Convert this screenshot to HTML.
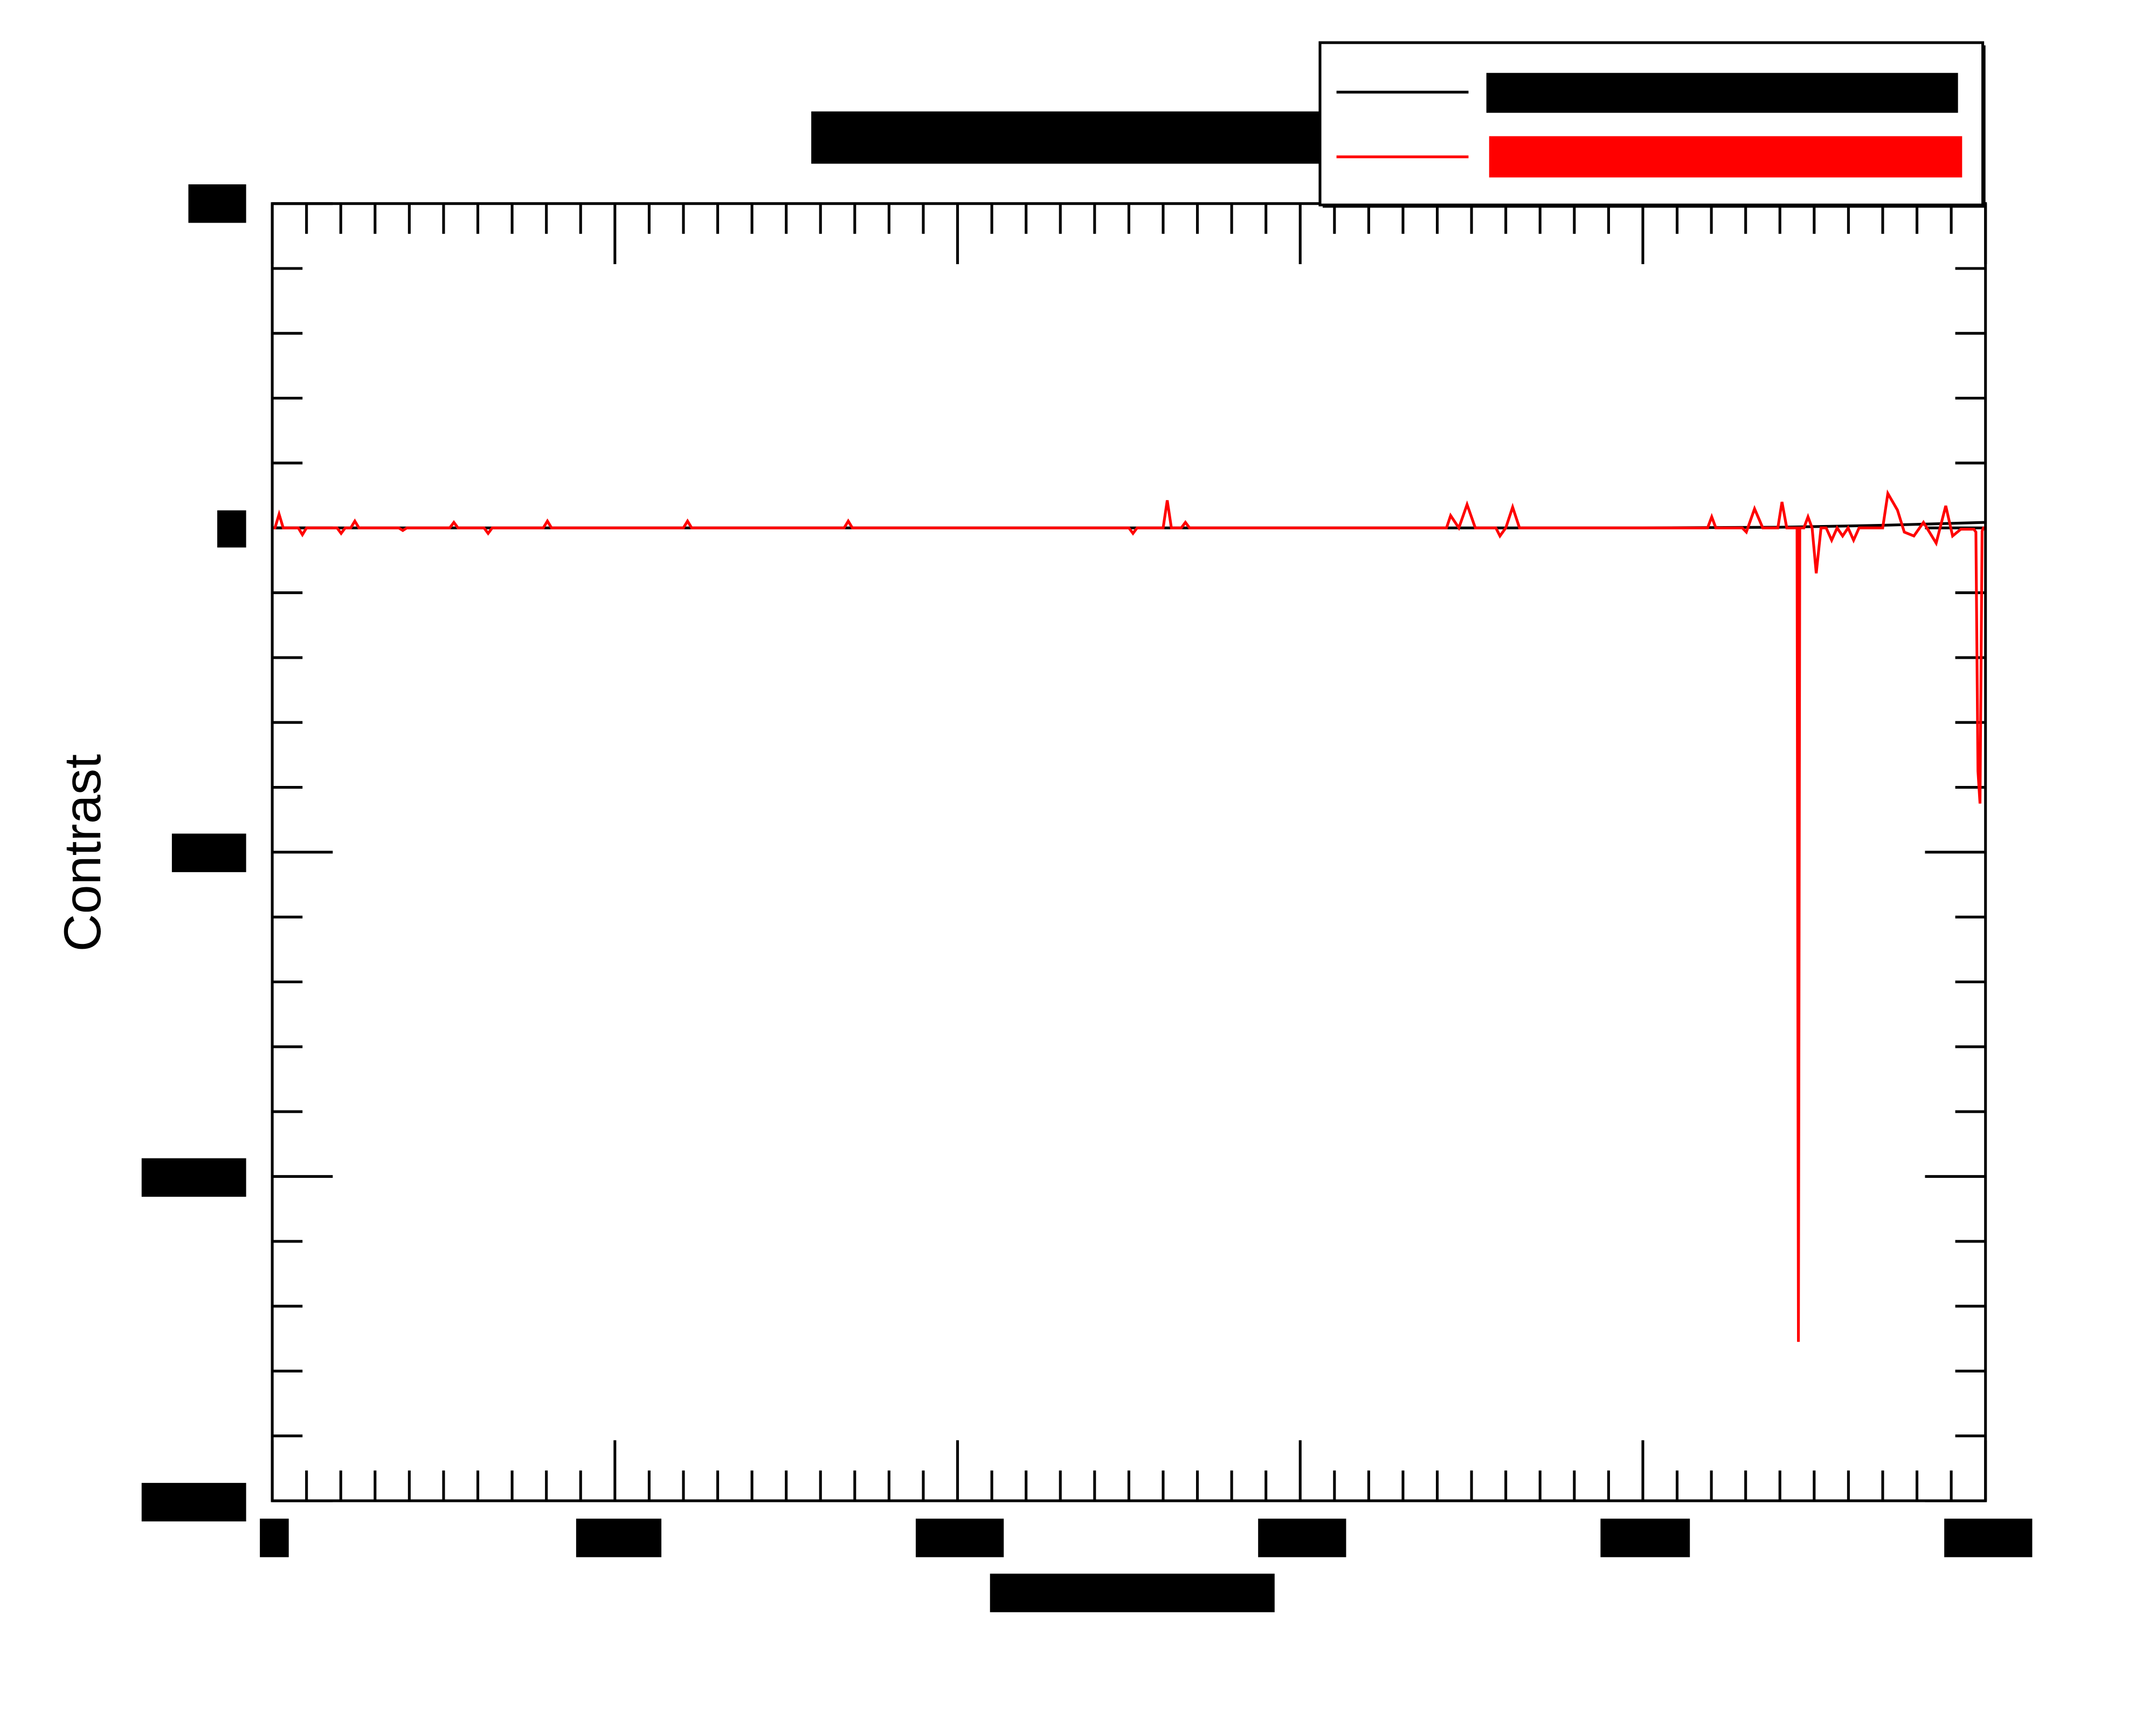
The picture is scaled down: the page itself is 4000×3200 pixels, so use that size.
<!DOCTYPE html>
<html><head><meta charset="utf-8"><style>
html,body{margin:0;padding:0;background:#fff;}
svg{display:block;}
</style></head><body>
<svg id="chart" width="4000" height="3200" viewBox="0 0 1568 1254" preserveAspectRatio="none" xmlns="http://www.w3.org/2000/svg">
<rect x="0" y="0" width="1568" height="1254" fill="#fff"/>
<g id="ticks"></g>
<g id="series"></g>
<rect x="198" y="148" width="1246" height="943" fill="none" stroke="#000" stroke-width="2"/>
<rect x="590" y="81" width="372" height="38" fill="#000"/>
<g>
<rect x="962" y="33" width="482" height="118" fill="#000"/>
<rect x="960" y="31" width="482" height="118" fill="#fff" stroke="#000" stroke-width="2"/>
<line x1="972" y1="67" x2="1068" y2="67" stroke="#000" stroke-width="2"/>
<rect x="1081" y="53" width="343" height="29" fill="#000"/>
<line x1="972" y1="114" x2="1068" y2="114" stroke="#f00" stroke-width="2"/>
<rect x="1083" y="99" width="344" height="30" fill="#f00"/>
</g>
<g>
<rect x="137" y="134" width="42" height="28" fill="#000"/>
<rect x="158" y="371" width="21" height="27" fill="#000"/>
<rect x="125" y="606" width="54" height="28" fill="#000"/>
<rect x="103" y="842" width="76" height="28" fill="#000"/>
<rect x="103" y="1078" width="76" height="28" fill="#000"/>
</g>
<g>
<rect x="189" y="1104" width="21" height="28" fill="#000"/>
<rect x="419" y="1104" width="62" height="28" fill="#000"/>
<rect x="666" y="1104" width="64" height="28" fill="#000"/>
<rect x="915" y="1104" width="64" height="28" fill="#000"/>
<rect x="1164" y="1104" width="65" height="28" fill="#000"/>
<rect x="1414" y="1104" width="64" height="28" fill="#000"/>
</g>
<rect x="720" y="1144" width="207" height="28" fill="#000"/>
<text x="0" y="0" transform="translate(73,620) rotate(-90)" text-anchor="middle" font-family="Liberation Sans, sans-serif" font-size="38" fill="#000">Contrast</text>
</svg>
<script>
// data arrays (x in units 0..5, y contrast)
const redX = [0,0.008,0.020,0.032,0.076,0.088,0.100,0.189,0.201,0.213,0.229,0.241,0.253,0.369,0.381,0.393,0.518,0.530,0.542,0.618,0.630,0.642,0.791,0.803,0.815,1.200,1.212,1.224,1.669,1.681,1.693,2.500,2.512,2.524,2.600,2.612,2.624,2.653,2.665,2.677,3.427,3.439,3.463,3.487,3.511,3.571,3.583,3.600,3.620,3.640,4.189,4.201,4.213,4.290,4.302,4.326,4.350,4.394,4.406,4.420,4.450,4.454,4.458,4.470,4.482,4.494,4.506,4.520,4.535,4.551,4.567,4.583,4.599,4.615,4.631,4.700,4.715,4.743,4.763,4.791,4.819,4.856,4.884,4.904,4.928,4.966,4.972,4.978,4.984,4.990,4.994,5.0];
const redY = [0,0,0.042,0,0,-0.021,0,0,-0.017,0,0,0.021,0,0,-0.008,0,0,0.017,0,0,-0.017,0,0,0.021,0,0,0.021,0,0,0.021,0,0,-0.017,0,0,0.085,0,0,0.017,0,0,0.038,0,0.072,0,0,-0.025,0,0.064,0,0,0.034,0,0,-0.013,0.059,0,0,0.080,0,0,-2.51,0,0,0.034,0,-0.14,0,0,-0.038,0,-0.025,0,-0.038,0,0,0.106,0.055,-0.013,-0.025,0.017,-0.047,0.068,-0.025,-0.004,-0.004,-0.013,-0.75,-0.85,-0.01,0,0];
const blackX = [0,1,2,3,4,4.4,4.7,5.0];
const blackY = [0,0,0,0,0,0.002,0.008,0.017];
const xMajor = [0,1,2,3,4,5];
const yMajor = [1,0,-1,-2,-3];

const X0=198,X1=1444,Y0=148,Y1=1091;
const xMin=0,xMax=5,yMin=-3,yMax=1;
function sx(v){return X0+(v-xMin)/(xMax-xMin)*(X1-X0);}
function sy(v){return Y1-(v-yMin)/(yMax-yMin)*(Y1-Y0);}
const NS="http://www.w3.org/2000/svg";
const tg=document.getElementById('ticks');
function ln(x1,y1,x2,y2,name){
  const l=document.createElementNS(NS,'line');
  l.setAttribute('x1',x1);l.setAttribute('y1',y1);l.setAttribute('x2',x2);l.setAttribute('y2',y2);
  l.setAttribute('stroke','#000');l.setAttribute('stroke-width','2');
  
  
  tg.appendChild(l);
}
for(let i=0;i<=50;i++){
  const v=i/10, x=sx(v), major=(i%10===0), len=major?44:22;
  ln(x,Y1,x,Y1-len,'x-tick');
  ln(x,Y0,x,Y0+len,'x-tick-top');
}
for(let i=0;i<=20;i++){
  const v=yMin+i*0.2, y=sy(v), major=(i%5===0), len=major?44:22;
  ln(X0,y,X0+len,y,'y-tick');
  ln(X1,y,X1-len,y,'y-tick-right');
}
const sg=document.getElementById('series');
function path(xs,ys,color,name){
  const p=document.createElementNS(NS,'path');
  p.setAttribute('d',xs.map((v,i)=>(i?'L':'M')+sx(v).toFixed(2)+' '+sy(ys[i]).toFixed(2)).join(' '));
  p.setAttribute('fill','none');p.setAttribute('stroke',color);p.setAttribute('stroke-width','2');
  p.setAttribute('stroke-linejoin','miter');
  
  
  sg.appendChild(p);
}
path(blackX,blackY,'#000','series-black');
path(redX,redY,'#f00','series-red');
</script>
</body></html>
